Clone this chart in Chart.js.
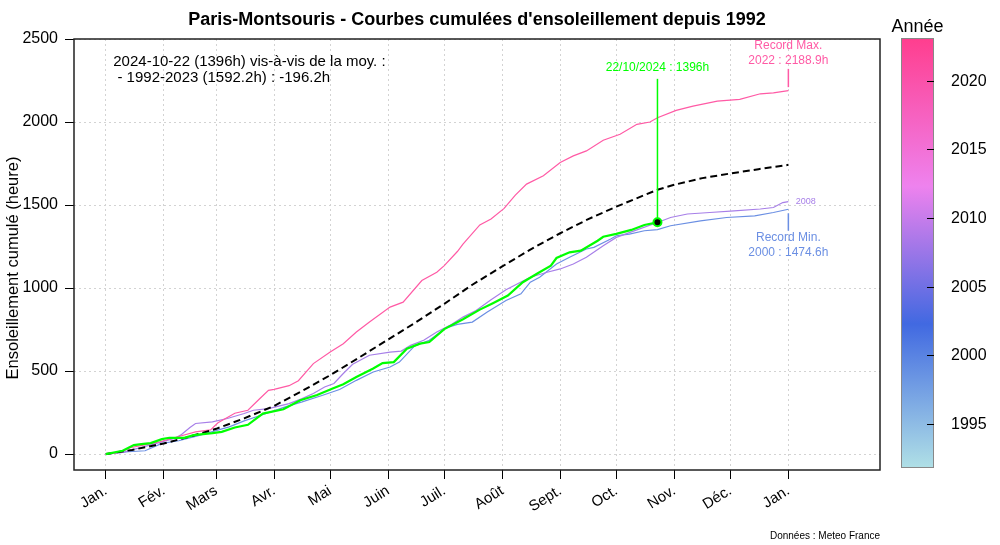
<!DOCTYPE html>
<html>
<head>
<meta charset="utf-8">
<script src="https://cdn.jsdelivr.net/npm/chart.js@4"></script>
<style>
  html, body { margin: 0; padding: 0; background: #fff; }
  #wrap { width: 1000px; height: 545px; }
</style>
</head>
<body>
<div id="wrap"><canvas id="chart" width="1000" height="545"></canvas></div>
<script>
// axes
const monthDays = [1, 32, 60, 91, 121, 152, 182, 213, 244, 274, 305, 335, 366];
const monthLabels = ['Jan.', 'Fév.', 'Mars', 'Avr.', 'Mai', 'Juin', 'Juil.', 'Août', 'Sept.', 'Oct.', 'Nov.', 'Déc.', 'Jan.'];
const yTicks = [0, 500, 1000, 1500, 2000, 2500];
const barYears = [1995, 2000, 2005, 2010, 2015, 2020];

// moyenne 1992-2023 (jour de l'année -> heures cumulées)
const meanDays = [1, 15, 32, 46, 60, 75, 91, 106, 121, 136, 152, 167, 182, 197, 213, 228, 244, 259, 274, 289, 296, 305, 320, 335, 350, 366];
const meanVals = [0, 25, 64, 105, 152, 215, 290, 380, 475, 578, 690, 795, 905, 1020, 1130, 1232, 1330, 1415, 1490, 1560, 1592, 1622, 1662, 1690, 1716, 1742];

// 2022 : record max
const days2022 = [1, 9, 14, 21, 30, 40, 49, 57, 61, 70, 77, 83, 88, 91, 99, 104, 112, 121, 128, 135, 142, 153, 160, 170, 178, 182, 189, 192, 201, 207, 214, 220, 226, 235, 244, 251, 258, 267, 276, 285, 292, 296, 306, 315, 328, 340, 351, 358, 366];
const sun2022 = [0, 12, 38, 54, 74, 106, 134, 146, 188, 246, 264, 330, 384, 390, 412, 442, 545, 615, 665, 735, 795, 885, 915, 1045, 1095, 1135, 1220, 1265, 1380, 1416, 1480, 1560, 1626, 1676, 1756, 1796, 1826, 1890, 1926, 1986, 2000, 2026, 2070, 2096, 2126, 2136, 2170, 2176, 2188.9];

// 2008
const days2008 = [1, 10, 20, 30, 38, 41, 46, 49, 58, 66, 75, 80, 88, 99, 106, 112, 118, 123, 128, 133, 142, 153, 159, 164, 171, 178, 185, 192, 199, 207, 215, 222, 228, 237, 244, 251, 258, 267, 274, 285, 296, 303, 312, 324, 337, 351, 358, 363, 366];
const sun2008 = [0, 10, 40, 70, 95, 114, 160, 184, 194, 214, 244, 264, 274, 304, 334, 365, 404, 425, 485, 541, 595, 614, 620, 655, 685, 735, 775, 825, 865, 929, 990, 1030, 1065, 1095, 1115, 1145, 1185, 1255, 1305, 1350, 1395, 1425, 1446, 1455, 1465, 1476, 1485, 1515, 1521];

// 2000 : record min
const days2000 = [1, 13, 22, 31, 40, 50, 58, 67, 75, 84, 97, 106, 117, 126, 135, 144, 153, 158, 166, 174, 183, 189, 197, 205, 215, 223, 228, 233, 242, 249, 258, 262, 271, 274, 281, 289, 296, 303, 319, 333, 348, 358, 366];
const sun2000 = [0, 14, 20, 64, 80, 110, 135, 164, 200, 234, 284, 314, 354, 389, 444, 494, 524, 554, 650, 685, 760, 781, 795, 855, 925, 965, 1035, 1065, 1145, 1185, 1235, 1245, 1295, 1315, 1325, 1345, 1352, 1375, 1405, 1425, 1435, 1455, 1474.6];

// 2024 jusqu'au 22/10
const days2024 = [1, 10, 16, 20, 25, 31, 35, 43, 48, 58, 63, 70, 77, 85, 96, 105, 114, 122, 128, 135, 144, 149, 155, 162, 169, 174, 182, 192, 201, 208, 216, 224, 232, 239, 242, 249, 255, 264, 267, 274, 282, 289, 296];
const sun2024 = [0, 20, 54, 60, 66, 90, 98, 98, 114, 126, 134, 160, 176, 244, 270, 324, 356, 394, 420, 464, 515, 548, 554, 635, 665, 675, 753, 812, 870, 909, 955, 1035, 1089, 1135, 1181, 1215, 1225, 1285, 1309, 1326, 1350, 1380, 1396];

const FONT = '"Liberation Sans", Arial, Helvetica, sans-serif';
const PINK = '#ff5aa5';
const PURPLE = '#a77fe8';
const BLUE = '#6b8fe3';
const GREEN = '#00ff00';

const pts = (xs, ys) => xs.map((x, i) => ({ x, y: ys[i] }));
const lastDay = days2024[days2024.length - 1];
const lastVal = sun2024[sun2024.length - 1];

Chart.defaults.font.family = FONT;
Chart.defaults.color = '#000';

function text(ctx, str, x, y, size, color, align, weight) {
  ctx.font = (weight || '') + ' ' + size + 'px ' + FONT;
  ctx.fillStyle = color;
  ctx.textAlign = align || 'center';
  ctx.textBaseline = 'middle';
  ctx.fillText(str, x, y);
}

// box, annotations, colour bar legend
const decor = {
  id: 'decor',
  afterDraw(chart) {
    const { ctx, chartArea: a, scales: { x, y } } = chart;
    ctx.save();
    ctx.strokeStyle = '#222';
    ctx.lineWidth = 1.5;
    ctx.strokeRect(a.left, a.top, a.right - a.left, a.bottom - a.top);

    text(ctx, 'Paris-Montsouris - Courbes cumulées d\'ensoleillement depuis 1992', (a.left + a.right) / 2, 20, 18, '#000', 'center', 'bold');

    // y axis title
    ctx.save();
    ctx.translate(13, 268);
    ctx.rotate(-Math.PI / 2);
    text(ctx, 'Ensoleillement cumulé (heure)', 0, 0, 16.5, '#000');
    ctx.restore();

    text(ctx, '2024-10-22 (1396h) vis-à-vis de la moy. :', x.getPixelForValue(5), y.getPixelForValue(2360), 15, '#000', 'left');
    text(ctx, ' - 1992-2023 (1592.2h) : -196.2h', x.getPixelForValue(5), y.getPixelForValue(2264), 15, '#000', 'left');

    text(ctx, '22/10/2024 : 1396h', x.getPixelForValue(lastDay), y.getPixelForValue(2330), 12, GREEN);
    text(ctx, 'Record Max.', x.getPixelForValue(366), y.getPixelForValue(2461), 12, PINK);
    text(ctx, '2022 : 2188.9h', x.getPixelForValue(366), y.getPixelForValue(2372), 12, PINK);
    text(ctx, 'Record Min.', x.getPixelForValue(366), y.getPixelForValue(1301), 12, BLUE);
    text(ctx, '2000 : 1474.6h', x.getPixelForValue(366), y.getPixelForValue(1215), 12, BLUE);
    text(ctx, '2008', x.getPixelForValue(370), y.getPixelForValue(1521), 9, PURPLE, 'left');

    text(ctx, 'Données : Meteo France', a.right, 536, 10, '#000', 'right');

    // colour bar
    const L = 901, R = 934, T = 38, B = 468, y0 = 1991.8, y1 = 2023.1;
    const yr = v => B - (v - y0) / (y1 - y0) * (B - T);
    const g = ctx.createLinearGradient(0, B, 0, T);
    g.addColorStop(0, '#b0e0e6');
    g.addColorStop(0.335, '#4169e1');
    g.addColorStop(0.655, '#ee82ee');
    g.addColorStop(1, '#ff3e8e');
    ctx.fillStyle = g;
    ctx.fillRect(L, T, R - L, B - T);
    ctx.strokeStyle = '#888';
    ctx.lineWidth = 1;
    ctx.strokeRect(L + 0.5, T + 0.5, R - L - 1, B - T - 1);
    ctx.strokeStyle = '#000';
    barYears.forEach(v => {
      const py = Math.round(yr(v)) + 0.5;
      ctx.beginPath();
      ctx.moveTo(R - 7, py);
      ctx.lineTo(R, py);
      ctx.stroke();
      text(ctx, String(v), 951, py, 16, '#000', 'left');
    });
    text(ctx, 'Année', (L + R) / 2, 27, 18, '#000');
    ctx.restore();
  }
};

const gridStyle = { color: '#d3d3d3', tickColor: '#000', tickLength: 9, tickBorderDash: [], lineWidth: 1 };

new Chart(document.getElementById('chart'), {
  type: 'line',
  data: {
    datasets: [
      { label: '22/10/2024', data: [{ x: lastDay, y: lastVal }], showLine: false, pointRadius: 4, pointBackgroundColor: '#000', pointBorderColor: GREEN, pointBorderWidth: 2 },
      { label: '2024', data: pts(days2024, sun2024), borderColor: GREEN, borderWidth: 2.2 },
      { label: 'repère 2024', data: [{ x: lastDay, y: lastVal }, { x: lastDay, y: 2260 }], borderColor: GREEN, borderWidth: 1.5 },
      { label: 'Moyenne 1992-2023', data: pts(meanDays, meanVals), borderColor: '#000', borderWidth: 2, borderDash: [7, 4] },
      { label: '2022', data: pts(days2022, sun2022), borderColor: PINK, borderWidth: 1.2 },
      { label: 'repère max', data: [{ x: 366, y: 2210 }, { x: 366, y: 2320 }], borderColor: PINK, borderWidth: 1.5 },
      { label: '2008', data: pts(days2008, sun2008), borderColor: PURPLE, borderWidth: 1.2 },
      { label: '2000', data: pts(days2000, sun2000), borderColor: BLUE, borderWidth: 1.2 },
      { label: 'repère min', data: [{ x: 366, y: 1450 }, { x: 366, y: 1345 }], borderColor: BLUE, borderWidth: 1.5 },
    ],
  },
  options: {
    responsive: false,
    devicePixelRatio: 1,
    animation: false,
    layout: { padding: { top: 39, right: 120, bottom: 0, left: 0 } },
    elements: { point: { radius: 0 }, line: { tension: 0, fill: false } },
    plugins: { legend: { display: false }, tooltip: { enabled: false }, title: { display: false } },
    scales: {
      x: {
        type: 'linear',
        min: -16,
        max: 415,
        afterBuildTicks: s => { s.ticks = monthDays.map(v => ({ value: v })); },
        afterFit: s => { s.height = 75; },
        ticks: {
          callback: (v, i) => monthLabels[i],
          autoSkip: false,
          minRotation: 32,
          maxRotation: 32,
          padding: 3,
          font: { size: 15 },
          color: '#000',
        },
        grid: gridStyle,
        border: { display: false, dash: [2, 3] },
      },
      y: {
        min: -96,
        max: 2500,
        afterBuildTicks: s => { s.ticks = yTicks.map(v => ({ value: v })); },
        afterFit: s => { s.width = 74; },
        ticks: { callback: v => String(v), font: { size: 16 }, padding: 7, color: '#000' },
        grid: gridStyle,
        border: { display: false, dash: [2, 3] },
      },
    },
  },
  plugins: [decor],
});
</script>
</body>
</html>
